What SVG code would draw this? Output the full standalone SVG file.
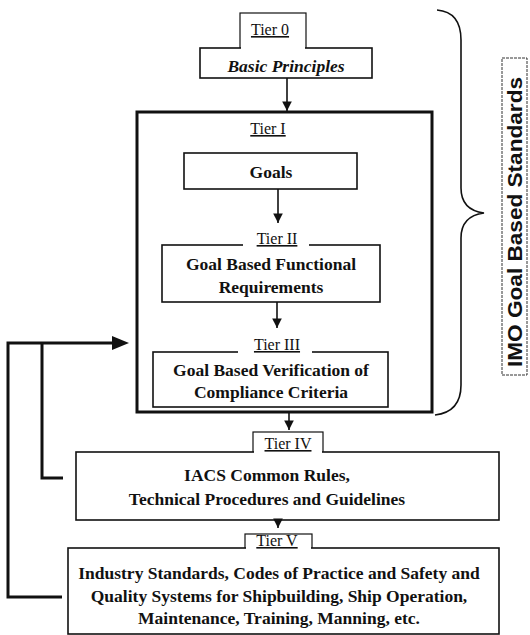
<svg xmlns="http://www.w3.org/2000/svg" width="530" height="635" viewBox="0 0 530 635">
<defs>
<style>
.box{fill:#fff;stroke:#111;stroke-width:1.6}
.big{fill:none;stroke:#111;stroke-width:3}
.lbl{fill:#fff;stroke:#111;stroke-width:1.2}
.t{font-family:"Liberation Serif","Times New Roman",serif;font-weight:bold;font-size:17.5px;fill:#111;text-anchor:middle}
.tier{font-family:"Liberation Serif","Times New Roman",serif;font-size:16px;fill:#111;text-anchor:middle;text-decoration:underline}
.ln{fill:none;stroke:#111;stroke-width:1.6}
.fb{fill:none;stroke:#111;stroke-width:3}
.imo{font-family:"Liberation Sans",Arial,sans-serif;font-weight:bold;font-size:20px;fill:#111;text-anchor:middle}
</style>
<marker id="ah" viewBox="0 0 10 10" refX="10" refY="5" markerWidth="6" markerHeight="6" markerUnits="strokeWidth" orient="auto">
<path d="M0,0 L10,5 L0,10 z" fill="#111"/>
</marker>
</defs>
<rect width="530" height="635" fill="#fff"/>

<g id="tier0">
<rect class="lbl" x="240" y="13" width="66" height="36"/>
<rect class="box" x="200" y="48" width="172" height="30"/>
<rect x="241" y="46" width="64" height="4" fill="#fff"/>
<text class="tier" x="270" y="35">Tier 0</text>
<text class="t" x="286" y="72" font-style="italic">Basic Principles</text>
</g>

<g id="tier1">
<rect class="big" x="137" y="112" width="295" height="300"/>
<text class="tier" x="268" y="134">Tier I</text>
</g>

<g id="goals">
<rect class="box" x="184" y="153" width="173" height="36"/>
<text class="t" x="271" y="178">Goals</text>
</g>

<g id="tier2">
<rect class="box" x="162" y="245" width="218" height="57"/>
<rect x="243" y="238" width="66" height="10" fill="#fff"/>
<text class="tier" x="277" y="244">Tier II</text>
<text class="t" x="271" y="270">Goal Based Functional</text>
<text class="t" x="271" y="293">Requirements</text>
</g>

<g id="tier3">
<rect class="box" x="153" y="352" width="235" height="55"/>
<rect x="238" y="345" width="74" height="10" fill="#fff"/>
<text class="tier" x="277" y="350">Tier III</text>
<text class="t" x="271" y="376">Goal Based Verification of</text>
<text class="t" x="271" y="398">Compliance Criteria</text>
</g>

<g id="tier4">
<rect class="lbl" x="253" y="432" width="70" height="22"/>
<rect class="box" x="76" y="452" width="423" height="68"/>
<rect x="254" y="450" width="68" height="4" fill="#fff"/>
<text class="tier" x="288" y="449">Tier IV</text>
<text class="t" x="267" y="481">IACS Common Rules,</text>
<text class="t" x="267" y="505">Technical Procedures and Guidelines</text>
</g>

<g id="tier5">
<rect class="lbl" x="245" y="534" width="67" height="16"/>
<rect class="box" x="68" y="548" width="431" height="86"/>
<rect x="246" y="546" width="65" height="4" fill="#fff"/>
<text class="tier" x="277" y="546">Tier V</text>
<text class="t" x="279" y="579">Industry Standards, Codes of Practice and Safety and</text>
<text class="t" x="279" y="602">Quality Systems for Shipbuilding, Ship Operation,</text>
<text class="t" x="279" y="624">Maintenance, Training, Manning, etc.</text>
</g>

<g id="imo">
<path class="ln" d="M437,10 Q461,12 461,40 L461,188 Q461,210 484,213 Q461,216 461,238 L461,385 Q461,412 435,415"/>
<rect x="502" y="58" width="25" height="317" fill="#fff" stroke="#333" stroke-width="1" stroke-dasharray="3,1"/>
<text class="imo" transform="translate(522,222) rotate(-90)" textLength="290" lengthAdjust="spacingAndGlyphs">IMO Goal Based Standards</text>
</g>

<g id="connectors">
<line class="ln" x1="287" y1="78" x2="287" y2="111" marker-end="url(#ah)"/>
<line class="ln" x1="278" y1="189" x2="278" y2="223" marker-end="url(#ah)"/>
<line class="ln" x1="277" y1="302" x2="277" y2="328" marker-end="url(#ah)"/>
<line class="ln" x1="289" y1="413" x2="289" y2="430" marker-end="url(#ah)"/>
<line class="ln" x1="278" y1="520" x2="278" y2="528" marker-end="url(#ah)"/>
<path class="fb" d="M62,597 L8,597 L8,343 L114,343"/>
<path class="fb" d="M63,478 L42,478 L42,343"/>
<path d="M112,336 L129,343 L112,350 z" fill="#111"/>
</g>
</svg>
